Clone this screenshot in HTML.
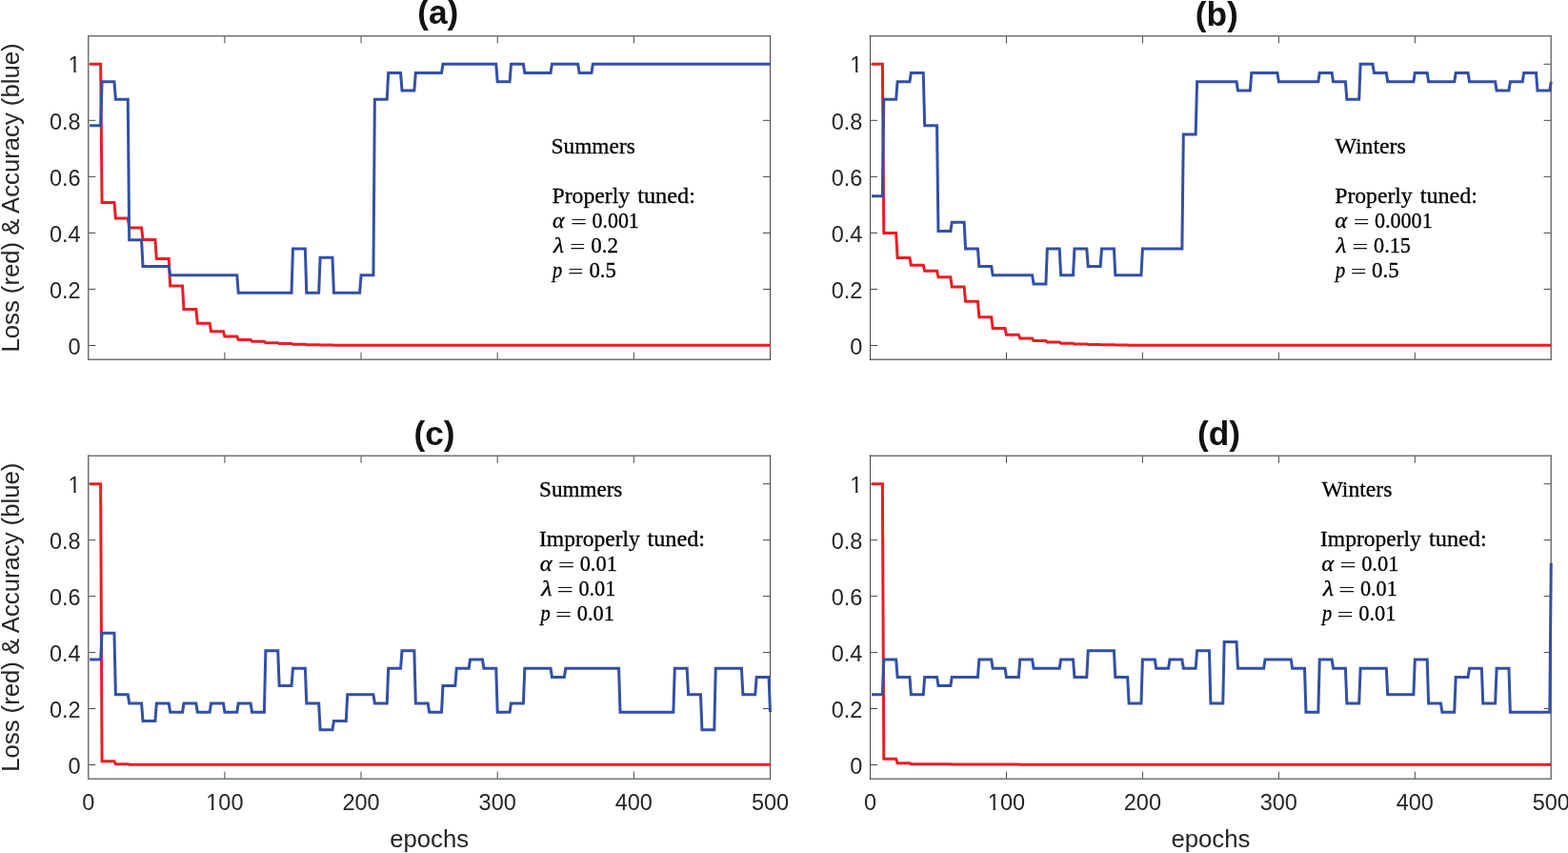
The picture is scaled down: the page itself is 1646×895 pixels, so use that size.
<!DOCTYPE html>
<html><head><meta charset="utf-8"><title>Loss and Accuracy</title>
<style>
html,body{margin:0;padding:0;background:#fff;}
body{width:1646px;height:895px;overflow:hidden;}
svg{display:block;}
.tk{font-family:"Liberation Sans",Arial,sans-serif;font-size:23.5px;fill:#262626;}
.lb{font-family:"Liberation Sans",Arial,sans-serif;font-size:25.7px;fill:#262626;}
.tt{font-family:"Liberation Sans",Arial,sans-serif;font-size:35.3px;font-weight:bold;fill:#111;}
.cm{font-family:"Liberation Serif","DejaVu Serif",serif;font-size:24px;fill:#000;stroke:#000;stroke-width:0.3px;}
.mi{font-style:italic;}
.cmeq{font-family:"Liberation Serif","DejaVu Serif",serif;font-size:24px;fill:#111;}
</style></head>
<body>
<svg width="1646" height="895" viewBox="0 0 1646 895">
<rect width="1646" height="895" fill="#fff"/>
<path d="M235.90,377.25 v-7.6 M235.90,37.75 v7.6 M379.05,377.25 v-7.6 M379.05,37.75 v7.6 M522.20,377.25 v-7.6 M522.20,37.75 v7.6 M665.35,377.25 v-7.6 M665.35,37.75 v7.6 M92.75,362.49 h7.6 M808.5,362.49 h-7.6 M92.75,303.45 h7.6 M808.5,303.45 h-7.6 M92.75,244.40 h7.6 M808.5,244.40 h-7.6 M92.75,185.36 h7.6 M808.5,185.36 h-7.6 M92.75,126.32 h7.6 M808.5,126.32 h-7.6 M92.75,67.27 h7.6 M808.5,67.27 h-7.6" stroke="#4b4745" stroke-width="1.0" fill="none"/>
<path d="M92.0,37.75 H809.0" stroke="#77726f" stroke-width="1.5" fill="none"/>
<path d="M92.0,377.25 H809.0" stroke="#77726f" stroke-width="1.5" fill="none"/>
<path d="M92.75,37.0 V378.0" stroke="#77726f" stroke-width="1.5" fill="none"/>
<path d="M808.5,37.0 V378.0" stroke="#4b4745" stroke-width="1.0" fill="none"/>
<g fill="none" stroke-width="3.0" stroke-linejoin="miter" stroke-miterlimit="10" stroke-linecap="butt">
<path d="M94.18,67.27 L105.63,67.27 L107.06,212.52 L119.95,212.52 L121.38,229.05 L134.26,229.05 L135.69,239.09 L148.58,239.09 L150.01,251.49 L162.89,251.49 L164.32,271.56 L177.21,271.56 L178.64,299.90 L191.52,299.90 L192.95,324.41 L205.84,324.41 L207.27,339.17 L220.15,339.17 L221.59,347.73 L234.47,347.73 L235.90,353.04 L248.78,353.04 L250.22,356.44 L263.10,356.44 L264.53,358.36 L277.41,358.36 L278.85,359.68 L291.73,359.68 L293.16,360.57 L306.04,360.57 L307.48,361.22 L320.36,361.22 L321.79,361.66 L334.67,361.66 L336.11,361.96 L348.99,361.96 L350.42,362.13 L363.30,362.13 L364.74,362.19 L808.50,362.19" stroke="#ec1c24"/>
<path d="M94.18,131.85 L105.63,131.85 L107.06,85.72 L119.95,85.72 L121.38,104.17 L134.26,104.17 L135.69,251.78 L148.58,251.78 L150.01,279.46 L177.21,279.46 L178.64,288.68 L248.78,288.68 L250.22,307.14 L306.04,307.14 L307.48,261.01 L320.36,261.01 L321.79,307.14 L334.67,307.14 L336.11,270.23 L348.99,270.23 L350.42,307.14 L377.62,307.14 L379.05,288.68 L391.93,288.68 L393.37,104.17 L406.25,104.17 L407.68,76.50 L420.56,76.50 L422.00,94.95 L434.88,94.95 L436.31,76.50 L463.51,76.50 L464.94,67.27 L520.77,67.27 L522.20,85.72 L535.08,85.72 L536.51,67.27 L549.40,67.27 L550.83,76.50 L578.03,76.50 L579.46,67.27 L606.66,67.27 L608.09,76.50 L620.97,76.50 L622.40,67.27 L808.50,67.27" stroke="#3350a4"/>
</g>
<text x="84.70" y="371.69" text-anchor="end" class="tk">0</text>
<text x="84.70" y="312.65" text-anchor="end" class="tk">0.2</text>
<text x="84.70" y="253.60" text-anchor="end" class="tk">0.4</text>
<text x="84.70" y="194.56" text-anchor="end" class="tk">0.6</text>
<text x="84.70" y="135.52" text-anchor="end" class="tk">0.8</text>
<clipPath id="one1"><rect x="66.62" y="36.47" width="23.08" height="37.30"/><rect x="77.37" y="35.47" width="2.39" height="45"/><rect x="84.70" y="35.47" width="5.00" height="45"/></clipPath>
<text x="84.70" y="76.47" text-anchor="end" class="tk" clip-path="url(#one1)">1</text>
<text transform="translate(19.8,207.50) rotate(-90)" text-anchor="middle" class="lb">Loss (red) &amp; Accuracy (blue)</text>
<path d="M1056.45,377.25 v-7.6 M1056.45,37.75 v7.6 M1199.40,377.25 v-7.6 M1199.40,37.75 v7.6 M1342.35,377.25 v-7.6 M1342.35,37.75 v7.6 M1485.30,377.25 v-7.6 M1485.30,37.75 v7.6 M913.5,362.49 h7.6 M1628.25,362.49 h-7.6 M913.5,303.45 h7.6 M1628.25,303.45 h-7.6 M913.5,244.40 h7.6 M1628.25,244.40 h-7.6 M913.5,185.36 h7.6 M1628.25,185.36 h-7.6 M913.5,126.32 h7.6 M1628.25,126.32 h-7.6 M913.5,67.27 h7.6 M1628.25,67.27 h-7.6" stroke="#4b4745" stroke-width="1.0" fill="none"/>
<path d="M912.75,37.75 H1628.75" stroke="#77726f" stroke-width="1.5" fill="none"/>
<path d="M912.75,377.25 H1628.75" stroke="#77726f" stroke-width="1.5" fill="none"/>
<path d="M913.5,37.0 V378.0" stroke="#4b4745" stroke-width="1.0" fill="none"/>
<path d="M1628.25,37.0 V378.0" stroke="#77726f" stroke-width="1.5" fill="none"/>
<g fill="none" stroke-width="3.0" stroke-linejoin="miter" stroke-miterlimit="10" stroke-linecap="butt">
<path d="M914.93,67.27 L926.37,67.27 L927.79,244.40 L940.66,244.40 L942.09,270.38 L954.96,270.38 L956.38,278.35 L969.25,278.35 L970.68,284.26 L983.55,284.26 L984.98,290.75 L997.84,290.75 L999.27,301.08 L1012.14,301.08 L1013.57,316.14 L1026.43,316.14 L1027.86,332.67 L1040.73,332.67 L1042.15,344.48 L1055.02,344.48 L1056.45,351.27 L1069.32,351.27 L1070.74,355.11 L1083.61,355.11 L1085.04,357.47 L1097.91,357.47 L1099.34,358.95 L1112.20,358.95 L1113.63,360.13 L1126.50,360.13 L1127.92,361.01 L1140.79,361.01 L1142.22,361.51 L1155.09,361.51 L1156.51,361.84 L1169.38,361.84 L1170.81,362.05 L1183.68,362.05 L1185.11,362.19 L1628.25,362.19" stroke="#ec1c24"/>
<path d="M914.93,205.65 L926.37,205.65 L927.79,104.17 L940.66,104.17 L942.09,85.72 L954.96,85.72 L956.38,76.50 L969.25,76.50 L970.68,131.85 L983.55,131.85 L984.98,242.56 L997.84,242.56 L999.27,233.33 L1012.14,233.33 L1013.57,261.01 L1026.43,261.01 L1027.86,279.46 L1040.73,279.46 L1042.15,288.68 L1083.61,288.68 L1085.04,297.91 L1097.91,297.91 L1099.34,261.01 L1112.20,261.01 L1113.63,288.68 L1126.50,288.68 L1127.92,261.01 L1140.79,261.01 L1142.22,279.46 L1155.09,279.46 L1156.51,261.01 L1169.38,261.01 L1170.81,288.68 L1197.97,288.68 L1199.40,261.01 L1240.86,261.01 L1242.29,141.08 L1255.15,141.08 L1256.58,85.72 L1298.04,85.72 L1299.46,94.95 L1312.33,94.95 L1313.76,76.50 L1340.92,76.50 L1342.35,85.72 L1383.81,85.72 L1385.24,76.50 L1398.10,76.50 L1399.53,85.72 L1412.40,85.72 L1413.83,104.17 L1426.69,104.17 L1428.12,67.27 L1440.99,67.27 L1442.41,76.50 L1455.28,76.50 L1456.71,85.72 L1483.87,85.72 L1485.30,76.50 L1498.17,76.50 L1499.60,85.72 L1526.76,85.72 L1528.18,76.50 L1541.05,76.50 L1542.48,85.72 L1569.64,85.72 L1571.07,94.95 L1583.94,94.95 L1585.37,85.72 L1598.23,85.72 L1599.66,76.50 L1612.53,76.50 L1613.95,94.95 L1626.82,94.95 L1628.25,85.72" stroke="#3350a4"/>
</g>
<text x="905.45" y="371.69" text-anchor="end" class="tk">0</text>
<text x="905.45" y="312.65" text-anchor="end" class="tk">0.2</text>
<text x="905.45" y="253.60" text-anchor="end" class="tk">0.4</text>
<text x="905.45" y="194.56" text-anchor="end" class="tk">0.6</text>
<text x="905.45" y="135.52" text-anchor="end" class="tk">0.8</text>
<clipPath id="one2"><rect x="887.37" y="36.47" width="23.08" height="37.30"/><rect x="898.12" y="35.47" width="2.39" height="45"/><rect x="905.45" y="35.47" width="5.00" height="45"/></clipPath>
<text x="905.45" y="76.47" text-anchor="end" class="tk" clip-path="url(#one2)">1</text>
<path d="M235.90,817.25 v-7.6 M235.90,478.25 v7.6 M379.05,817.25 v-7.6 M379.05,478.25 v7.6 M522.20,817.25 v-7.6 M522.20,478.25 v7.6 M665.35,817.25 v-7.6 M665.35,478.25 v7.6 M92.75,802.51 h7.6 M808.5,802.51 h-7.6 M92.75,743.55 h7.6 M808.5,743.55 h-7.6 M92.75,684.60 h7.6 M808.5,684.60 h-7.6 M92.75,625.64 h7.6 M808.5,625.64 h-7.6 M92.75,566.68 h7.6 M808.5,566.68 h-7.6 M92.75,507.73 h7.6 M808.5,507.73 h-7.6" stroke="#4b4745" stroke-width="1.0" fill="none"/>
<path d="M92.0,478.25 H809.0" stroke="#77726f" stroke-width="1.5" fill="none"/>
<path d="M92.0,817.25 H809.0" stroke="#77726f" stroke-width="1.5" fill="none"/>
<path d="M92.75,477.5 V818.0" stroke="#77726f" stroke-width="1.5" fill="none"/>
<path d="M808.5,477.5 V818.0" stroke="#4b4745" stroke-width="1.0" fill="none"/>
<g fill="none" stroke-width="3.0" stroke-linejoin="miter" stroke-miterlimit="10" stroke-linecap="butt">
<path d="M94.18,507.73 L105.63,507.73 L107.06,798.68 L119.95,798.68 L121.38,801.77 L134.26,801.77 L135.69,802.22 L808.50,802.22" stroke="#ec1c24"/>
<path d="M94.18,691.97 L105.63,691.97 L107.06,664.33 L119.95,664.33 L121.38,728.82 L134.26,728.82 L135.69,738.03 L148.58,738.03 L150.01,756.45 L162.89,756.45 L164.32,738.03 L177.21,738.03 L178.64,747.24 L191.52,747.24 L192.95,738.03 L205.84,738.03 L207.27,747.24 L220.15,747.24 L221.59,738.03 L234.47,738.03 L235.90,747.24 L248.78,747.24 L250.22,738.03 L263.10,738.03 L264.53,747.24 L277.41,747.24 L278.85,682.76 L291.73,682.76 L293.16,719.60 L306.04,719.60 L307.48,701.18 L320.36,701.18 L321.79,738.03 L334.67,738.03 L336.11,765.66 L348.99,765.66 L350.42,756.45 L363.30,756.45 L364.74,728.82 L391.93,728.82 L393.37,738.03 L406.25,738.03 L407.68,701.18 L420.56,701.18 L422.00,682.76 L434.88,682.76 L436.31,738.03 L449.19,738.03 L450.62,747.24 L463.51,747.24 L464.94,719.60 L477.82,719.60 L479.25,701.18 L492.14,701.18 L493.57,691.97 L506.45,691.97 L507.88,701.18 L520.77,701.18 L522.20,747.24 L535.08,747.24 L536.51,738.03 L549.40,738.03 L550.83,701.18 L578.03,701.18 L579.46,710.39 L592.34,710.39 L593.77,701.18 L649.60,701.18 L651.03,747.24 L706.86,747.24 L708.29,701.18 L721.18,701.18 L722.61,728.82 L735.49,728.82 L736.92,765.66 L749.81,765.66 L751.24,701.18 L778.44,701.18 L779.87,728.82 L792.75,728.82 L794.18,710.39 L807.07,710.39 L808.50,747.24" stroke="#3350a4"/>
</g>
<text x="84.70" y="811.71" text-anchor="end" class="tk">0</text>
<text x="84.70" y="752.75" text-anchor="end" class="tk">0.2</text>
<text x="84.70" y="693.80" text-anchor="end" class="tk">0.4</text>
<text x="84.70" y="634.84" text-anchor="end" class="tk">0.6</text>
<text x="84.70" y="575.88" text-anchor="end" class="tk">0.8</text>
<clipPath id="one3"><rect x="66.62" y="476.93" width="23.08" height="37.30"/><rect x="77.37" y="475.93" width="2.39" height="45"/><rect x="84.70" y="475.93" width="5.00" height="45"/></clipPath>
<text x="84.70" y="516.93" text-anchor="end" class="tk" clip-path="url(#one3)">1</text>
<text x="92.75" y="849.8" text-anchor="middle" class="tk">0</text>
<clipPath id="one4"><rect x="211.28" y="809.80" width="51.23" height="37.30"/><rect x="222.03" y="808.80" width="2.39" height="45"/><rect x="229.36" y="808.80" width="33.16" height="45"/></clipPath>
<text x="235.90" y="849.8" text-anchor="middle" class="tk" clip-path="url(#one4)">100</text>
<text x="379.05" y="849.8" text-anchor="middle" class="tk">200</text>
<text x="522.20" y="849.8" text-anchor="middle" class="tk">300</text>
<text x="665.35" y="849.8" text-anchor="middle" class="tk">400</text>
<text x="808.50" y="849.8" text-anchor="middle" class="tk">500</text>
<text x="450.62" y="889.3" text-anchor="middle" class="lb">epochs</text>
<text transform="translate(19.8,647.75) rotate(-90)" text-anchor="middle" class="lb">Loss (red) &amp; Accuracy (blue)</text>
<path d="M1056.45,817.25 v-7.6 M1056.45,478.25 v7.6 M1199.40,817.25 v-7.6 M1199.40,478.25 v7.6 M1342.35,817.25 v-7.6 M1342.35,478.25 v7.6 M1485.30,817.25 v-7.6 M1485.30,478.25 v7.6 M913.5,802.51 h7.6 M1628.25,802.51 h-7.6 M913.5,743.55 h7.6 M1628.25,743.55 h-7.6 M913.5,684.60 h7.6 M1628.25,684.60 h-7.6 M913.5,625.64 h7.6 M1628.25,625.64 h-7.6 M913.5,566.68 h7.6 M1628.25,566.68 h-7.6 M913.5,507.73 h7.6 M1628.25,507.73 h-7.6" stroke="#4b4745" stroke-width="1.0" fill="none"/>
<path d="M912.75,478.25 H1628.75" stroke="#77726f" stroke-width="1.5" fill="none"/>
<path d="M912.75,817.25 H1628.75" stroke="#77726f" stroke-width="1.5" fill="none"/>
<path d="M913.5,477.5 V818.0" stroke="#4b4745" stroke-width="1.0" fill="none"/>
<path d="M1628.25,477.5 V818.0" stroke="#77726f" stroke-width="1.5" fill="none"/>
<g fill="none" stroke-width="3.0" stroke-linejoin="miter" stroke-miterlimit="10" stroke-linecap="butt">
<path d="M914.93,507.73 L926.37,507.73 L927.79,796.32 L940.66,796.32 L942.09,800.74 L954.96,800.74 L956.38,801.63 L969.25,801.63 L970.68,801.77 L983.55,801.77 L984.98,801.86 L997.84,801.86 L999.27,801.92 L1012.14,801.92 L1013.57,801.98 L1026.43,801.98 L1027.86,802.04 L1040.73,802.04 L1042.15,802.07 L1055.02,802.07 L1056.45,802.10 L1069.32,802.10 L1070.74,802.13 L1083.61,802.13 L1085.04,802.16 L1097.91,802.16 L1099.34,802.19 L1112.20,802.19 L1113.63,802.22 L1628.25,802.22" stroke="#ec1c24"/>
<path d="M914.93,728.82 L926.37,728.82 L927.79,691.97 L940.66,691.97 L942.09,710.39 L954.96,710.39 L956.38,728.82 L969.25,728.82 L970.68,710.39 L983.55,710.39 L984.98,719.60 L997.84,719.60 L999.27,710.39 L1026.43,710.39 L1027.86,691.97 L1040.73,691.97 L1042.15,701.18 L1055.02,701.18 L1056.45,710.39 L1069.32,710.39 L1070.74,691.97 L1083.61,691.97 L1085.04,701.18 L1112.20,701.18 L1113.63,691.97 L1126.50,691.97 L1127.92,710.39 L1140.79,710.39 L1142.22,682.76 L1169.38,682.76 L1170.81,710.39 L1183.68,710.39 L1185.11,738.03 L1197.97,738.03 L1199.40,691.97 L1212.27,691.97 L1213.69,701.18 L1226.56,701.18 L1227.99,691.97 L1240.86,691.97 L1242.29,701.18 L1255.15,701.18 L1256.58,682.76 L1269.45,682.76 L1270.88,738.03 L1283.74,738.03 L1285.17,673.54 L1298.04,673.54 L1299.46,701.18 L1326.63,701.18 L1328.06,691.97 L1355.22,691.97 L1356.64,701.18 L1369.51,701.18 L1370.94,747.24 L1383.81,747.24 L1385.24,691.97 L1398.10,691.97 L1399.53,701.18 L1412.40,701.18 L1413.83,738.03 L1426.69,738.03 L1428.12,701.18 L1455.28,701.18 L1456.71,728.82 L1483.87,728.82 L1485.30,691.97 L1498.17,691.97 L1499.60,738.03 L1512.46,738.03 L1513.89,747.24 L1526.76,747.24 L1528.18,710.39 L1541.05,710.39 L1542.48,701.18 L1555.35,701.18 L1556.78,738.03 L1569.64,738.03 L1571.07,701.18 L1583.94,701.18 L1585.37,747.24 L1626.82,747.24 L1628.25,590.64" stroke="#3350a4"/>
</g>
<text x="905.45" y="811.71" text-anchor="end" class="tk">0</text>
<text x="905.45" y="752.75" text-anchor="end" class="tk">0.2</text>
<text x="905.45" y="693.80" text-anchor="end" class="tk">0.4</text>
<text x="905.45" y="634.84" text-anchor="end" class="tk">0.6</text>
<text x="905.45" y="575.88" text-anchor="end" class="tk">0.8</text>
<clipPath id="one5"><rect x="887.37" y="476.93" width="23.08" height="37.30"/><rect x="898.12" y="475.93" width="2.39" height="45"/><rect x="905.45" y="475.93" width="5.00" height="45"/></clipPath>
<text x="905.45" y="516.93" text-anchor="end" class="tk" clip-path="url(#one5)">1</text>
<text x="913.50" y="849.8" text-anchor="middle" class="tk">0</text>
<clipPath id="one6"><rect x="1031.83" y="809.80" width="51.23" height="37.30"/><rect x="1042.58" y="808.80" width="2.39" height="45"/><rect x="1049.91" y="808.80" width="33.16" height="45"/></clipPath>
<text x="1056.45" y="849.8" text-anchor="middle" class="tk" clip-path="url(#one6)">100</text>
<text x="1199.40" y="849.8" text-anchor="middle" class="tk">200</text>
<text x="1342.35" y="849.8" text-anchor="middle" class="tk">300</text>
<text x="1485.30" y="849.8" text-anchor="middle" class="tk">400</text>
<text x="1628.25" y="849.8" text-anchor="middle" class="tk">500</text>
<text x="1270.88" y="889.3" text-anchor="middle" class="lb">epochs</text>
<text x="459.75" y="24.7" text-anchor="middle" class="tt">(a)</text>
<text x="1277.2" y="26.7" text-anchor="middle" class="tt">(b)</text>
<text x="456.05" y="466.6" text-anchor="middle" class="tt">(c)</text>
<text x="1279.5" y="467.0" text-anchor="middle" class="tt">(d)</text>
<text x="578.53" y="160.50" class="cm" textLength="88.23" lengthAdjust="spacingAndGlyphs">Summers</text>
<text y="212.50" class="cm">
<tspan x="579.50" textLength="81.56" lengthAdjust="spacingAndGlyphs">Properly</tspan>
<tspan x="669.20" textLength="60.83" lengthAdjust="spacingAndGlyphs">tuned:</tspan>
</text>
<text x="580.00" y="238.50" class="cm mi" textLength="12.42" lengthAdjust="spacingAndGlyphs">α</text>
<text transform="translate(598.93,240.20) scale(1.2667,0.90)" class="cmeq">=</text>
<text x="621.59" y="238.50" class="cm" textLength="49.22" lengthAdjust="spacingAndGlyphs">0.001</text>
<text x="581.05" y="264.50" class="cm mi" textLength="10.97" lengthAdjust="spacingAndGlyphs">λ</text>
<text transform="translate(597.98,266.20) scale(1.2250,0.90)" class="cmeq">=</text>
<text x="620.34" y="264.50" class="cm" textLength="28.71" lengthAdjust="spacingAndGlyphs">0.2</text>
<text x="580.10" y="290.50" class="cm mi" textLength="10.20" lengthAdjust="spacingAndGlyphs">p</text>
<text transform="translate(596.07,292.20) scale(1.2250,0.90)" class="cmeq">=</text>
<text x="618.45" y="290.50" class="cm" textLength="28.50" lengthAdjust="spacingAndGlyphs">0.5</text>
<text x="1401.40" y="160.70" class="cm" textLength="74.32" lengthAdjust="spacingAndGlyphs">Winters</text>
<text y="212.70" class="cm">
<tspan x="1401.30" textLength="81.36" lengthAdjust="spacingAndGlyphs">Properly</tspan>
<tspan x="1490.70" textLength="60.41" lengthAdjust="spacingAndGlyphs">tuned:</tspan>
</text>
<text x="1401.20" y="238.70" class="cm mi" textLength="12.90" lengthAdjust="spacingAndGlyphs">α</text>
<text transform="translate(1420.86,240.40) scale(1.2417,0.90)" class="cmeq">=</text>
<text x="1442.98" y="238.70" class="cm" textLength="60.74" lengthAdjust="spacingAndGlyphs">0.0001</text>
<text x="1402.64" y="264.70" class="cm mi" textLength="10.78" lengthAdjust="spacingAndGlyphs">λ</text>
<text transform="translate(1419.33,266.40) scale(1.2667,0.90)" class="cmeq">=</text>
<text x="1442.08" y="264.70" class="cm" textLength="38.85" lengthAdjust="spacingAndGlyphs">0.15</text>
<text x="1401.90" y="290.70" class="cm mi" textLength="10.20" lengthAdjust="spacingAndGlyphs">p</text>
<text transform="translate(1417.65,292.40) scale(1.2500,0.90)" class="cmeq">=</text>
<text x="1440.05" y="290.70" class="cm" textLength="28.50" lengthAdjust="spacingAndGlyphs">0.5</text>
<text x="566.04" y="520.50" class="cm" textLength="87.31" lengthAdjust="spacingAndGlyphs">Summers</text>
<text y="572.50" class="cm">
<tspan x="566.02" textLength="105.75" lengthAdjust="spacingAndGlyphs">Improperly</tspan>
<tspan x="679.40" textLength="60.72" lengthAdjust="spacingAndGlyphs">tuned:</tspan>
</text>
<text x="566.80" y="598.50" class="cm mi" textLength="12.90" lengthAdjust="spacingAndGlyphs">α</text>
<text transform="translate(585.80,600.20) scale(1.3000,0.90)" class="cmeq">=</text>
<text x="608.67" y="598.50" class="cm" textLength="39.16" lengthAdjust="spacingAndGlyphs">0.01</text>
<text x="568.18" y="624.50" class="cm mi" textLength="11.26" lengthAdjust="spacingAndGlyphs">λ</text>
<text transform="translate(584.51,626.20) scale(1.2917,0.90)" class="cmeq">=</text>
<text x="607.48" y="624.50" class="cm" textLength="38.85" lengthAdjust="spacingAndGlyphs">0.01</text>
<text x="567.40" y="650.50" class="cm mi" textLength="10.20" lengthAdjust="spacingAndGlyphs">p</text>
<text transform="translate(582.93,652.20) scale(1.2667,0.90)" class="cmeq">=</text>
<text x="605.77" y="650.50" class="cm" textLength="39.16" lengthAdjust="spacingAndGlyphs">0.01</text>
<text x="1387.50" y="520.50" class="cm" textLength="73.82" lengthAdjust="spacingAndGlyphs">Winters</text>
<text y="572.50" class="cm">
<tspan x="1386.02" textLength="105.75" lengthAdjust="spacingAndGlyphs">Improperly</tspan>
<tspan x="1500.00" textLength="60.72" lengthAdjust="spacingAndGlyphs">tuned:</tspan>
</text>
<text x="1387.30" y="598.50" class="cm mi" textLength="12.90" lengthAdjust="spacingAndGlyphs">α</text>
<text transform="translate(1406.30,600.20) scale(1.3000,0.90)" class="cmeq">=</text>
<text x="1429.17" y="598.50" class="cm" textLength="39.17" lengthAdjust="spacingAndGlyphs">0.01</text>
<text x="1388.68" y="624.50" class="cm mi" textLength="11.26" lengthAdjust="spacingAndGlyphs">λ</text>
<text transform="translate(1405.01,626.20) scale(1.2917,0.90)" class="cmeq">=</text>
<text x="1427.98" y="624.50" class="cm" textLength="38.85" lengthAdjust="spacingAndGlyphs">0.01</text>
<text x="1387.90" y="650.50" class="cm mi" textLength="10.20" lengthAdjust="spacingAndGlyphs">p</text>
<text transform="translate(1403.43,652.20) scale(1.2667,0.90)" class="cmeq">=</text>
<text x="1426.27" y="650.50" class="cm" textLength="39.16" lengthAdjust="spacingAndGlyphs">0.01</text>
</svg>
</body></html>
